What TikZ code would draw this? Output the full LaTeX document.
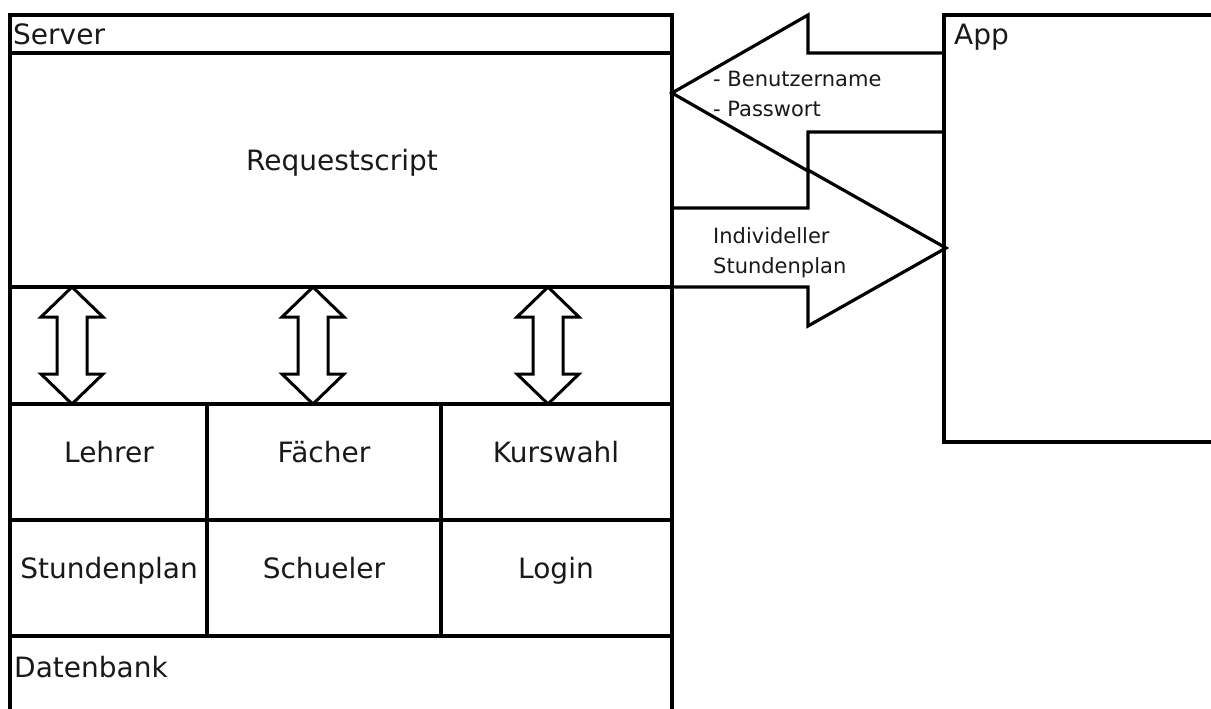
\documentclass[tikz,border=0pt]{standalone}
\usepackage{fontspec}
\setmainfont{DejaVu Sans}
\begin{document}
\begin{tikzpicture}[x=1pt,y=-1pt,
  frame/.style={line width=3.2pt, line join=miter},
  flow/.style={line width=3.2pt, line join=miter},
  link/.style={line width=3pt, line join=miter},
  label/.style={inner sep=0pt, font=\fontsize{28}{33}\selectfont, text=black!90},
  note/.style={inner sep=0pt, anchor=base west, font=\fontsize{21}{25}\selectfont, text=black!90},
  dblarrow/.pic={\draw[link] (0,0) -- (31,30) -- (15,30) -- (15,87) -- (31,87)
      -- (0,117) -- (-31,87) -- (-15,87) -- (-15,30) -- (-31,30) -- cycle;}
]
\useasboundingbox (0,0) rectangle (1211,709);
\clip (0,0) rectangle (1211,709);
\fill[white] (0,0) rectangle (1211,709);

% server frame (open at the bottom)
\draw[frame] (10,720) -- (10,15) -- (672,15) -- (672,720);
\draw[frame] (10,53) -- (672,53);
\draw[frame] (10,287) -- (672,287);
\draw[frame] (10,404) -- (672,404);
\draw[frame] (10,520) -- (672,520);
\draw[frame] (10,636) -- (672,636);
\draw[frame] (207,404) -- (207,636);
\draw[frame] (441,404) -- (441,636);

% app frame (open to the right)
\draw[frame] (1220,15) -- (944,15) -- (944,442) -- (1220,442);

% labels
\node[label, anchor=base west] (server) at (13,45) {Server};
\node[label, anchor=base] (request) at (342,170) {Requestscript};
\node[label, anchor=base] (lehrer) at (109,462) {Lehrer};
\node[label, anchor=base] (faecher) at (324,462) {Fächer};
\node[label, anchor=base] (kurswahl) at (556,462) {Kurswahl};
\node[label, anchor=base] (stdplan) at (109,578) {Stundenplan};
\node[label, anchor=base] (schueler) at (324,578) {Schueler};
\node[label, anchor=base] (login) at (556,578) {Login};
\node[label, anchor=base west] (datenbank) at (14,677) {Datenbank};
\node[label, anchor=base west] (app) at (954,45) {App};

% database access arrows
\pic at (72,287) {dblarrow};
\pic at (313,287) {dblarrow};
\pic at (548,287) {dblarrow};

% login request: app -> server
\coordinate (reqtip) at (672,93);
\draw[flow] (944,53) -- (808,53) -- (808,15) -- (reqtip) -- (808,171) -- (808,132) -- (944,132);
\node[note] (user) at (713,87) {- Benutzername};
\node[note] (pass) at (713,117) {- Passwort};

% timetable response: server -> app
\coordinate (resptip) at (946,248);
\draw[flow] (672,208) -- (808,208) -- (808,170) -- (resptip) -- (808,326) -- (808,287) -- (672,287);
\node[note] (indiv) at (713,243) {Individeller};
\node[note] (plan) at (713,273) {Stundenplan};
\end{tikzpicture}
\end{document}
